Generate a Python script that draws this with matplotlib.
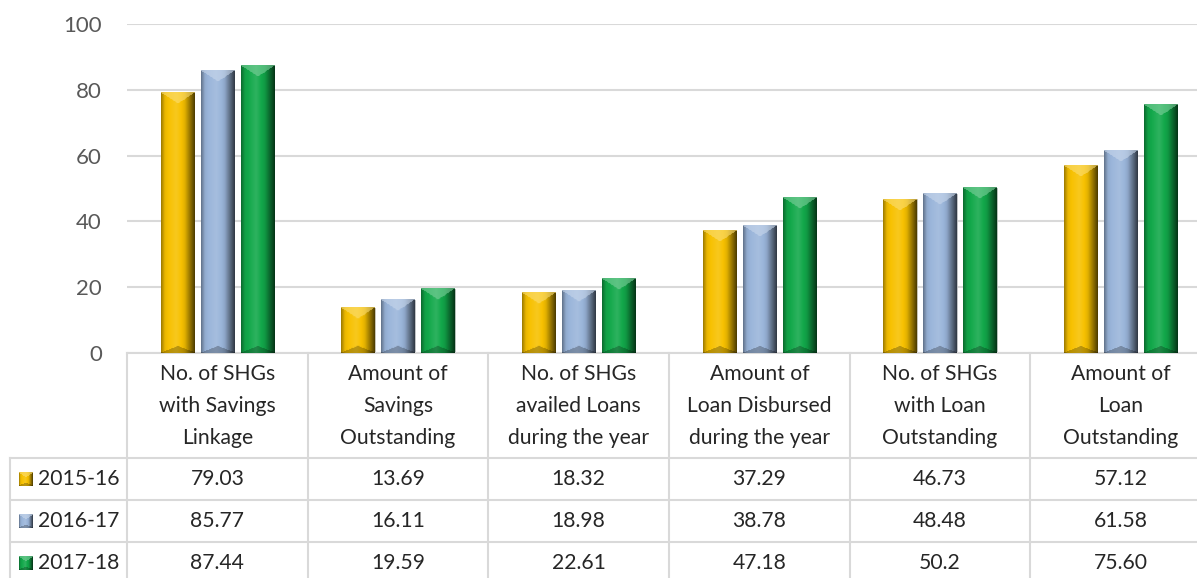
import numpy as np
import matplotlib
matplotlib.use("Agg")
import matplotlib.pyplot as plt
from matplotlib.lines import Line2D
from matplotlib import transforms
import matplotlib.colors as mcolors

plt.rcParams['font.family'] = ['Lato', 'DejaVu Sans']

categories = ["No. of SHGs\nwith Savings\nLinkage", "Amount of\nSavings\nOutstanding",
              "No. of SHGs\navailed Loans\nduring the year", "Amount of\nLoan Disbursed\nduring the year",
              "No. of SHGs\nwith Loan\nOutstanding", "Amount of\nLoan\nOutstanding"]
series_names = ["2015-16", "2016-17", "2017-18"]
v2015 = [79.03, 13.69, 18.32, 37.29, 46.73, 57.12]
v2016 = [85.77, 16.11, 18.98, 38.78, 48.48, 61.58]
v2017 = [87.44, 19.59, 22.61, 47.18, 50.2, 75.60]
labels2015 = ["79.03", "13.69", "18.32", "37.29", "46.73", "57.12"]
labels2016 = ["85.77", "16.11", "18.98", "38.78", "48.48", "61.58"]
labels2017 = ["87.44", "19.59", "22.61", "47.18", "50.2", "75.60"]
yticks = [0, 20, 40, 60, 80, 100]

values = [v2015, v2016, v2017]
labels = [labels2015, labels2016, labels2017]
colors = ["#F7C100", "#9AB5DA", "#12A84A"]

W, H = 1197, 578
fig = plt.figure(figsize=(W / 100, H / 100), dpi=100)
ax_left, ax_right, ax_top, ax_bot = 127, 1211, 24, 353
ax = fig.add_axes([ax_left / W, 1 - ax_bot / H, (ax_right - ax_left) / W, (ax_bot - ax_top) / H])
ax.set_xlim(-0.5, 5.5)
ax.set_ylim(0, 100)
ax.set_yticks(yticks)
ax.tick_params(axis='y', length=0, labelsize=16, labelcolor="#595959", pad=18)
ax.set_xticks([])
for s in ["left", "right", "top"]:
    ax.spines[s].set_visible(False)
ax.spines["bottom"].set_color("#D9D9D9")
ax.spines["bottom"].set_linewidth(1.5)
ax.grid(axis='y', color="#D9D9D9", linewidth=1.5)
ax.set_axisbelow(True)


def shade(c, f):
    c = np.array(c)
    if f <= 1:
        return c * f
    return c + (1 - c) * (f - 1)


def bevel_image(color, wpx, hpx, tri_h=11):
    base = np.array(mcolors.to_rgb(color))
    wpx = max(int(round(wpx)), 2)
    hpx = max(int(round(hpx)), 2)
    u = (np.arange(wpx) + 0.5) / wpx
    prof_u = [0, 0.12, 0.45, 0.7, 0.88, 1.0]
    prof_f = [0.62, 0.95, 1.12, 0.92, 0.55, 0.3]
    fu = np.interp(u, prof_u, prof_f)
    img = np.zeros((hpx, wpx, 3))
    for j in range(wpx):
        img[:, j, :] = shade(base, fu[j])
    d = np.arange(hpx)[:, None]
    tri = tri_h * (1 - np.abs(2 * u - 1))[None, :]
    top_mask = d < tri
    light = shade(base, 1.45)
    for k in range(3):
        layer = img[:, :, k]
        layer[top_mask] = light[k] * 0.6 + layer[top_mask] * 0.4
    db = (hpx - 1 - np.arange(hpx))[:, None]
    bot_mask = db < 0.6 * tri
    for k in range(3):
        layer = img[:, :, k]
        layer[bot_mask] = layer[bot_mask] * 0.75
    return np.clip(img, 0, 1)


x = np.arange(len(categories))
bw = 0.183
offs = [-0.2215, 0.0, 0.2215]
fig.canvas.draw()
for i in range(3):
    bars = ax.bar(x + offs[i], values[i], bw, color=colors[i], edgecolor="#BFBFBF", linewidth=0.6, zorder=2)
    for p in bars:
        x0, y0 = p.get_x(), p.get_y()
        x1, y1 = x0 + p.get_width(), y0 + p.get_height()
        (px0, py0), (px1, py1) = ax.transData.transform([(x0, y0), (x1, y1)])
        img = bevel_image(colors[i], px1 - px0, py1 - py0)
        ax.imshow(img, extent=[x0, x1, y0, y1], aspect='auto', zorder=3, interpolation='bilinear')
ax.set_xlim(-0.5, 5.5)
ax.set_ylim(0, 100)

# ---- data table ----
bt = transforms.blended_transform_factory(ax.transData, fig.transFigure)
fy = lambda ypx: 1 - ypx / H
fx = lambda xpx: xpx / W
gc = "#D9D9D9"
lw = 1.5
rows_y = [353, 458, 500, 542, 584]
bounds = np.arange(-0.5, 6.0, 1.0)
for b in bounds:
    fig.add_artist(Line2D([b, b], [fy(353), fy(584)], transform=bt, color=gc, lw=lw, clip_on=False))
for yy in rows_y[1:]:
    fig.add_artist(Line2D([fx(10), fx(1197)], [fy(yy), fy(yy)], transform=fig.transFigure, color=gc, lw=lw))
fig.add_artist(Line2D([fx(10), fx(10)], [fy(458), fy(584)], transform=fig.transFigure, color=gc, lw=lw))

txtc = "#262626"
fs = 15.2
for j, cat in enumerate(categories):
    fig.text(j, fy(406), cat, transform=bt, ha='center', va='center', fontsize=fs, color=txtc, linespacing=1.72)

for i in range(3):
    yc = (rows_y[i + 1] + rows_y[i + 2]) / 2
    fig.text(fx(38), fy(yc), series_names[i], ha='left', va='center', fontsize=fs, color=txtc)
    key = bevel_image(colors[i], 14, 14, tri_h=5)
    kax = fig.add_axes([fx(19), fy(yc + 7), 14 / W, 14 / H])
    kax.imshow(key, aspect='auto')
    kax.set_axis_off()
    for j in range(len(categories)):
        fig.text(j, fy(yc), labels[i][j], transform=bt, ha='center', va='center', fontsize=fs, color=txtc)

fig.savefig("out.png", dpi=100)
